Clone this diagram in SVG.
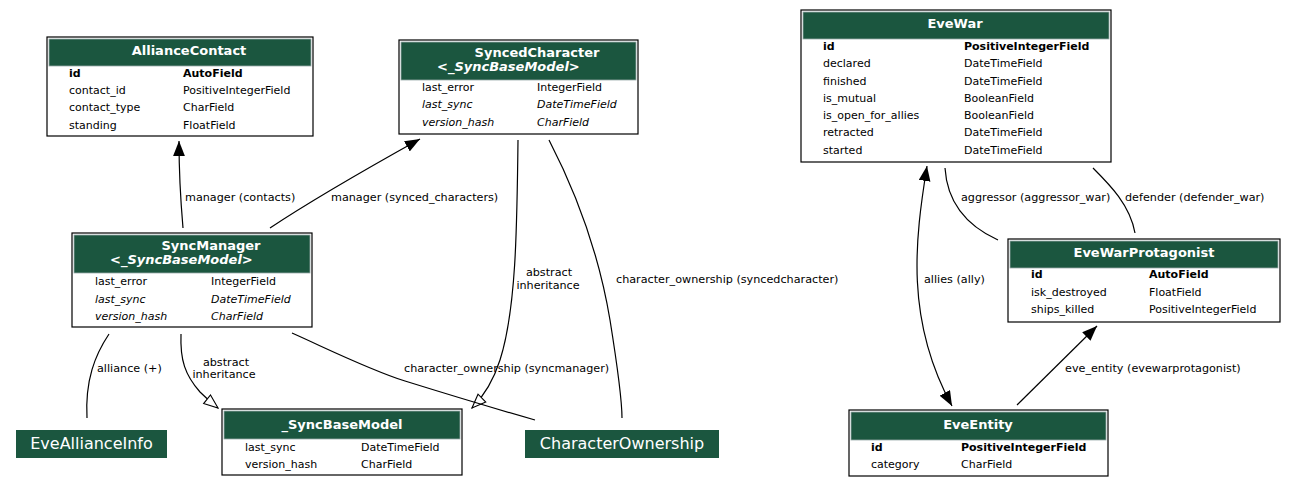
<svg xmlns="http://www.w3.org/2000/svg" width="1295" height="487" viewBox="0 0 1295 487">
<style>
text{font-family:"DejaVu Sans","Liberation Sans",sans-serif;fill:#000}
.f{font-size:11px}
.b{font-weight:bold}
.i{font-style:italic}
.t{font-size:13px;font-weight:bold;fill:#fff}
.ti{font-size:13px;font-weight:bold;font-style:italic;fill:#fff}
.box{fill:#fff;stroke:#000;stroke-width:1.2}
.hd{fill:#1b563f;stroke:#9aa;stroke-width:0.8}
.sg{fill:#1b563f}
.st{font-size:16px;fill:#fff}
.lbl{font-size:11.2px}
.e{fill:none;stroke:#000;stroke-width:1.2}
</style>
<defs>
<marker id="fa" markerUnits="userSpaceOnUse" markerWidth="15" markerHeight="12" viewBox="0 0 14 11" refX="14" refY="5.5" orient="auto-start-reverse"><path d="M0,0 L14,5.5 L0,11 Z" fill="#000"/></marker>
<marker id="ha" markerUnits="userSpaceOnUse" markerWidth="16" markerHeight="13" viewBox="-1 -1 16 13" refX="14" refY="5.5" orient="auto"><path d="M0,0 L14,5.5 L0,11 Z" fill="#fff" stroke="#000" stroke-width="1.1"/></marker>
</defs>

<g id="connectors">
<path class="e" d="M183,228 C181,205 179,175 179,141" marker-end="url(#fa)"/>
<path class="e" d="M270,228 C300,208 350,178 420,139" marker-end="url(#fa)"/>
<path class="e" d="M518,140 C517,230 516,310 500,360 C492,385 482,398 472,408" marker-end="url(#ha)"/>
<path class="e" d="M181,334 C180,360 185,375 200,392 C208,400 213,404 218,408" marker-end="url(#ha)"/>
<path class="e" d="M292,333 C330,350 370,370 405,381 C450,395 500,410 535,420"/>
<path class="e" d="M549,140 C580,200 600,260 610,320 C618,370 622,400 622,418"/>
<path class="e" d="M109,334 C95,355 85,380 87,418"/>
<path class="e" d="M945,168 C947,200 965,225 998,240"/>
<path class="e" d="M1093,168 C1110,185 1130,205 1135,233"/>
<path class="e" d="M927,166 C915,240 905,320 952,406" marker-start="url(#fa)" marker-end="url(#fa)"/>
<path class="e" d="M1017,405 L1097,326" marker-end="url(#fa)"/>
<text class="lbl" x="185" y="201">manager (contacts)</text>
<text class="lbl" x="331" y="201">manager (synced_characters)</text>
<text class="lbl" x="549" y="276" text-anchor="middle">abstract</text>
<text class="lbl" x="548" y="289" text-anchor="middle">inheritance</text>
<text class="lbl" x="616" y="283">character_ownership (syncedcharacter)</text>
<text class="lbl" x="226" y="366" text-anchor="middle">abstract</text>
<text class="lbl" x="224" y="378" text-anchor="middle">inheritance</text>
<text class="lbl" x="97" y="372">alliance (+)</text>
<text class="lbl" x="404" y="372">character_ownership (syncmanager)</text>
<text class="lbl" x="961" y="201">aggressor (aggressor_war)</text>
<text class="lbl" x="1125" y="201">defender (defender_war)</text>
<text class="lbl" x="924" y="283">allies (ally)</text>
<text class="lbl" x="1065" y="372">eve_entity (evewarprotagonist)</text>
</g>

<g id="AllianceContact">
<rect class="box" x="47" y="37" width="266" height="99"/>
<rect class="hd" x="49" y="39" width="262" height="27"/>
<text class="t" x="189" y="55" text-anchor="middle">AllianceContact</text>
<text class="f b" x="69" y="77">id</text><text class="f b" x="183" y="77">AutoField</text>
<text class="f" x="69" y="94">contact_id</text><text class="f" x="183" y="94">PositiveIntegerField</text>
<text class="f" x="69" y="111">contact_type</text><text class="f" x="183" y="111">CharField</text>
<text class="f" x="69" y="129">standing</text><text class="f" x="183" y="129">FloatField</text>
</g>

<g id="SyncedCharacter">
<rect class="box" x="399" y="40" width="239" height="94"/>
<rect class="hd" x="401" y="42" width="235" height="38"/>
<text class="t" x="537" y="57" text-anchor="middle">SyncedCharacter</text>
<text class="ti" x="437" y="71">&lt;_SyncBaseModel&gt;</text>
<text class="f" x="422" y="91">last_error</text><text class="f" x="537" y="91">IntegerField</text>
<text class="f i" x="422" y="108">last_sync</text><text class="f i" x="537" y="108">DateTimeField</text>
<text class="f i" x="422" y="126">version_hash</text><text class="f i" x="537" y="126">CharField</text>
</g>

<g id="EveWar">
<rect class="box" x="801" y="10" width="310" height="152"/>
<rect class="hd" x="803" y="12" width="306" height="27"/>
<text class="t" x="955" y="28" text-anchor="middle">EveWar</text>
<text class="f b" x="823" y="50">id</text><text class="f b" x="964" y="50">PositiveIntegerField</text>
<text class="f" x="823" y="67">declared</text><text class="f" x="964" y="67">DateTimeField</text>
<text class="f" x="823" y="85">finished</text><text class="f" x="964" y="85">DateTimeField</text>
<text class="f" x="823" y="102">is_mutual</text><text class="f" x="964" y="102">BooleanField</text>
<text class="f" x="823" y="119">is_open_for_allies</text><text class="f" x="964" y="119">BooleanField</text>
<text class="f" x="823" y="136">retracted</text><text class="f" x="964" y="136">DateTimeField</text>
<text class="f" x="823" y="154">started</text><text class="f" x="964" y="154">DateTimeField</text>
</g>

<g id="SyncManager">
<rect class="box" x="72" y="233" width="240" height="94"/>
<rect class="hd" x="74" y="235" width="236" height="38"/>
<text class="t" x="211" y="250" text-anchor="middle">SyncManager</text>
<text class="ti" x="110" y="264">&lt;_SyncBaseModel&gt;</text>
<text class="f" x="95" y="285">last_error</text><text class="f" x="211" y="285">IntegerField</text>
<text class="f i" x="95" y="303">last_sync</text><text class="f i" x="211" y="303">DateTimeField</text>
<text class="f i" x="95" y="320">version_hash</text><text class="f i" x="211" y="320">CharField</text>
</g>

<g id="_SyncBaseModel">
<rect class="box" x="222" y="409" width="240" height="66"/>
<rect class="hd" x="224" y="411" width="236" height="28"/>
<text class="t" x="342" y="429" text-anchor="middle">_SyncBaseModel</text>
<text class="f" x="245" y="451">last_sync</text><text class="f" x="361" y="451">DateTimeField</text>
<text class="f" x="245" y="468">version_hash</text><text class="f" x="361" y="468">CharField</text>
</g>

<g id="EveWarProtagonist">
<rect class="box" x="1008" y="239" width="272" height="83"/>
<rect class="hd" x="1010" y="241" width="268" height="27"/>
<text class="t" x="1144" y="257" text-anchor="middle">EveWarProtagonist</text>
<text class="f b" x="1031" y="278">id</text><text class="f b" x="1149" y="278">AutoField</text>
<text class="f" x="1031" y="296">isk_destroyed</text><text class="f" x="1149" y="296">FloatField</text>
<text class="f" x="1031" y="313">ships_killed</text><text class="f" x="1149" y="313">PositiveIntegerField</text>
</g>

<g id="EveEntity">
<rect class="box" x="849" y="410" width="259" height="66"/>
<rect class="hd" x="851" y="412" width="255" height="28"/>
<text class="t" x="978" y="429" text-anchor="middle">EveEntity</text>
<text class="f b" x="871" y="451">id</text><text class="f b" x="961" y="451">PositiveIntegerField</text>
<text class="f" x="871" y="468">category</text><text class="f" x="961" y="468">CharField</text>
</g>

<g id="EveAllianceInfo">
<rect class="sg" x="16" y="430" width="151" height="28"/>
<text class="st" x="91.5" y="449" text-anchor="middle">EveAllianceInfo</text>
</g>

<g id="CharacterOwnership">
<rect class="sg" x="525" y="430" width="194" height="28"/>
<text class="st" x="622" y="449" text-anchor="middle">CharacterOwnership</text>
</g>
</svg>
